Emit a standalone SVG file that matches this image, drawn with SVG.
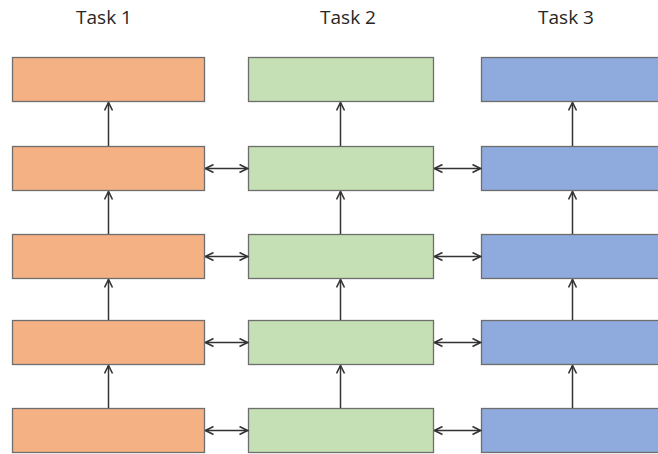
<svg xmlns="http://www.w3.org/2000/svg" width="658" height="454" viewBox="0 0 658 454">
  <style>
    .title { font-family: "Open Sans", "Liberation Sans", sans-serif; font-size: 19px; fill: #262626; text-anchor: middle; }
    .box { stroke: #6e6e6e; stroke-width: 1.3; }
    .t1 { fill: #F4B183; }
    .t2 { fill: #C5E0B4; }
    .t3 { fill: #8FAADC; }
    .conn { stroke: #333333; stroke-width: 1.5; fill: none; }
  </style>
  <defs>
    <marker id="head" viewBox="0 0 10 10" refX="9" refY="5" markerWidth="10" markerHeight="10" markerUnits="userSpaceOnUse" orient="auto-start-reverse">
      <path d="M1,1 L9,5 L1,9" fill="none" stroke="#333333" stroke-width="1.6"/>
    </marker>
  </defs>

  <rect width="658" height="454" fill="#ffffff"/>

  <g id="titles">
    <text class="title" x="104" y="24">Task 1</text>
    <text class="title" x="348" y="24">Task 2</text>
    <text class="title" x="566" y="24">Task 3</text>
  </g>

  <!-- Task 1 column -->
  <g id="t1-r1"><rect class="box t1" x="12.5" y="57.5" width="192" height="44"/></g>
  <g id="t1-r2"><rect class="box t1" x="12.5" y="146.5" width="192" height="44"/></g>
  <g id="t1-r3"><rect class="box t1" x="12.5" y="234.5" width="192" height="44"/></g>
  <g id="t1-r4"><rect class="box t1" x="12.5" y="320.5" width="192" height="44"/></g>
  <g id="t1-r5"><rect class="box t1" x="12.5" y="408.5" width="192" height="44"/></g>

  <!-- Task 2 column -->
  <g id="t2-r1"><rect class="box t2" x="248.5" y="57.5" width="185" height="44"/></g>
  <g id="t2-r2"><rect class="box t2" x="248.5" y="146.5" width="185" height="44"/></g>
  <g id="t2-r3"><rect class="box t2" x="248.5" y="234.5" width="185" height="44"/></g>
  <g id="t2-r4"><rect class="box t2" x="248.5" y="320.5" width="185" height="44"/></g>
  <g id="t2-r5"><rect class="box t2" x="248.5" y="408.5" width="185" height="44"/></g>

  <!-- Task 3 column (runs off the right edge) -->
  <g id="t3-r1"><rect class="box t3" x="481.5" y="57.5" width="190" height="44"/></g>
  <g id="t3-r2"><rect class="box t3" x="481.5" y="146.5" width="190" height="44"/></g>
  <g id="t3-r3"><rect class="box t3" x="481.5" y="234.5" width="190" height="44"/></g>
  <g id="t3-r4"><rect class="box t3" x="481.5" y="320.5" width="190" height="44"/></g>
  <g id="t3-r5"><rect class="box t3" x="481.5" y="408.5" width="190" height="44"/></g>

  <g id="connectors">
    <!-- vertical: lower layer feeds upper layer -->
    <line class="conn" x1="108.5" y1="146" x2="108.5" y2="102.5" marker-end="url(#head)"/>
    <line class="conn" x1="108.5" y1="234" x2="108.5" y2="191.5" marker-end="url(#head)"/>
    <line class="conn" x1="108.5" y1="320" x2="108.5" y2="279.5" marker-end="url(#head)"/>
    <line class="conn" x1="108.5" y1="408" x2="108.5" y2="365.5" marker-end="url(#head)"/>

    <line class="conn" x1="340.5" y1="146" x2="340.5" y2="102.5" marker-end="url(#head)"/>
    <line class="conn" x1="340.5" y1="234" x2="340.5" y2="191.5" marker-end="url(#head)"/>
    <line class="conn" x1="340.5" y1="320" x2="340.5" y2="279.5" marker-end="url(#head)"/>
    <line class="conn" x1="340.5" y1="408" x2="340.5" y2="365.5" marker-end="url(#head)"/>

    <line class="conn" x1="572.5" y1="146" x2="572.5" y2="102.5" marker-end="url(#head)"/>
    <line class="conn" x1="572.5" y1="234" x2="572.5" y2="191.5" marker-end="url(#head)"/>
    <line class="conn" x1="572.5" y1="320" x2="572.5" y2="279.5" marker-end="url(#head)"/>
    <line class="conn" x1="572.5" y1="408" x2="572.5" y2="365.5" marker-end="url(#head)"/>

    <!-- horizontal: shared links between tasks -->
    <line class="conn" x1="205.5" y1="168.5" x2="247.5" y2="168.5" marker-start="url(#head)" marker-end="url(#head)"/>
    <line class="conn" x1="205.5" y1="256.5" x2="247.5" y2="256.5" marker-start="url(#head)" marker-end="url(#head)"/>
    <line class="conn" x1="205.5" y1="342.5" x2="247.5" y2="342.5" marker-start="url(#head)" marker-end="url(#head)"/>
    <line class="conn" x1="205.5" y1="430.5" x2="247.5" y2="430.5" marker-start="url(#head)" marker-end="url(#head)"/>

    <line class="conn" x1="434.5" y1="168.5" x2="480.5" y2="168.5" marker-start="url(#head)" marker-end="url(#head)"/>
    <line class="conn" x1="434.5" y1="256.5" x2="480.5" y2="256.5" marker-start="url(#head)" marker-end="url(#head)"/>
    <line class="conn" x1="434.5" y1="342.5" x2="480.5" y2="342.5" marker-start="url(#head)" marker-end="url(#head)"/>
    <line class="conn" x1="434.5" y1="430.5" x2="480.5" y2="430.5" marker-start="url(#head)" marker-end="url(#head)"/>
  </g>
</svg>
